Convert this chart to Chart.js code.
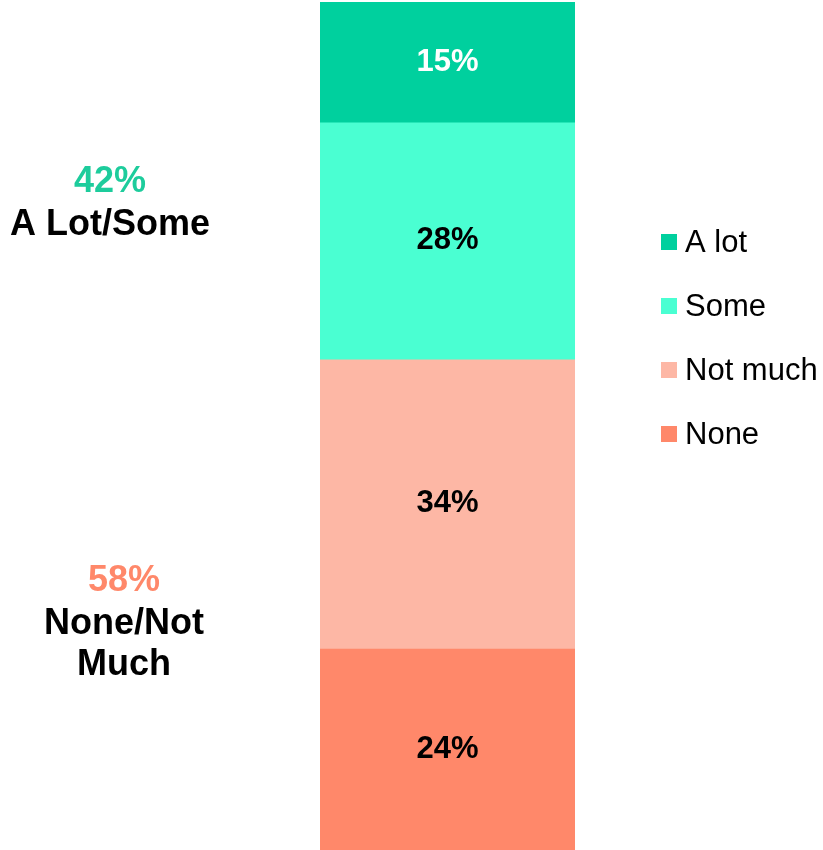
<!DOCTYPE html>
<html>
<head>
<meta charset="utf-8">
<script src="https://cdn.jsdelivr.net/npm/chart.js@4"></script>
<style>
  body { margin: 0; background: #fff; }
  #wrap { width: 823px; height: 850px; position: relative; }
</style>
</head>
<body>
<div id="wrap"><canvas id="stackChart"></canvas></div>
<script>
const categories = ['A lot', 'Some', 'Not much', 'None'];
const values = [14.3, 28.2, 34.4, 24.0];
const valueLabels = ['15%', '28%', '34%', '24%'];
const colors = ['#00D09E', '#4AFFD2', '#FDB7A5', '#FF886A'];
const labelColors = ['#FFFFFF', '#000000', '#000000', '#000000'];

const groupPct = ['42%', '58%'];
const groupNames = [['A Lot/Some'], ['None/Not', 'Much']];
const groupColors = ['#1DCC9C', '#FF886A'];

const FONT = '"Liberation Sans", Arial, sans-serif';
const total = values.reduce((s, v) => s + v, 0);

// labels inside the bar segments
const segmentLabels = {
    id: 'segmentLabels',
    afterDatasetsDraw(chart) {
        const ctx = chart.ctx;
        ctx.save();
        ctx.font = 'bold 31px ' + FONT;
        ctx.textAlign = 'center';
        ctx.textBaseline = 'middle';
        chart.data.datasets.forEach((ds, i) => {
            const bar = chart.getDatasetMeta(i).data[0];
            const mid = (bar.y + bar.base) / 2;
            ctx.fillStyle = labelColors[i];
            ctx.fillText(valueLabels[i], bar.x, mid);
        });
        ctx.restore();
    }
};

// legend on the right and group totals on the left
const sideText = {
    id: 'sideText',
    afterDraw(chart) {
        const ctx = chart.ctx;
        ctx.save();
        ctx.textBaseline = 'middle';

        ctx.font = '31px ' + FONT;
        categories.forEach((name, i) => {
            const y = 242 + i * 64;
            ctx.fillStyle = colors[i];
            ctx.fillRect(661, y - 8, 16, 16);
            ctx.fillStyle = '#000';
            ctx.textAlign = 'left';
            ctx.fillText(name, 685, y + 1);
        });

        ctx.textAlign = 'center';
        const tops = [180, 579];
        const centers = [110, 124];
        groupPct.forEach((pct, g) => {
            ctx.font = 'bold 36px ' + FONT;
            ctx.fillStyle = groupColors[g];
            ctx.fillText(pct, centers[g], tops[g] + 2);
            ctx.fillStyle = '#000';
            groupNames[g].forEach((line, k) => {
                ctx.fillText(line, centers[g], tops[g] + 45 + k * 41);
            });
        });
        ctx.restore();
    }
};

const ctx = document.getElementById('stackChart').getContext('2d');
new Chart(ctx, {
    type: 'bar',
    data: {
        labels: [''],
        datasets: categories.map((name, i) => ({
            label: name,
            data: [values[i]],
            backgroundColor: colors[i],
            borderWidth: 0,
            barPercentage: 1,
            categoryPercentage: 1
        }))
    },
    options: {
        responsive: true,
        maintainAspectRatio: false,
        animation: false,
        layout: { padding: { left: 320, right: 248, top: 2, bottom: 0 } },
        scales: {
            x: { stacked: true, display: false },
            // reversed axis so the first category sits at the top
            y: { stacked: true, display: false, reverse: true, min: 0, max: total }
        },
        plugins: {
            legend: { display: false },
            tooltip: { enabled: false }
        }
    },
    plugins: [segmentLabels, sideText]
});
</script>
</body>
</html>
